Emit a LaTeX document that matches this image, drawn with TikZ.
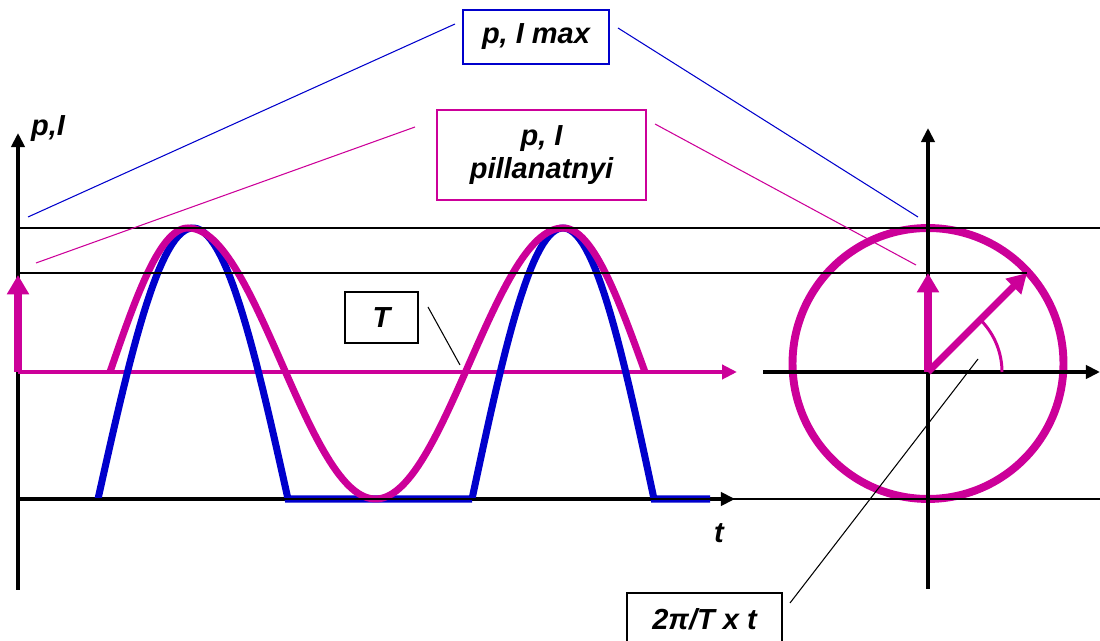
\documentclass[tikz,border=0pt]{standalone}
\usepackage{fontspec}
\setmainfont{Liberation Sans}
\usetikzlibrary{arrows.meta}
\definecolor{pmag}{RGB}{204,0,153}
\definecolor{pblue}{RGB}{0,0,204}

\begin{document}
\begin{tikzpicture}[
  x=0.02cm, y=-0.02cm,
  txt/.style={font=\fontsize{16.5}{19}\selectfont\bfseries\itshape, align=center},
  box/.style={txt, draw, line width=0.6pt, inner sep=0pt},
  axis/.style={line width=2.3pt, -{Triangle[length=8pt,width=7.5pt]}},
  guide/.style={line width=0.6pt},
  vec/.style={pmag, line width=4pt, -{Triangle[length=11pt,width=12pt]}},
  wave/.style={line width=4pt}
]
\useasboundingbox (0,0) rectangle (1100,641);
% reference points
\coordinate (org) at (928,372);
\coordinate (upL) at (18,275);
\coordinate (upR) at (928,273);
\coordinate (rot) at (1027,273);
% axes of the time plot
\draw[axis] (18,590) -- (18,133);
\draw[axis] (18,499) -- (735,499);
\draw[pmag, line width=2.5pt, -{Triangle[length=8.5pt,width=8pt]}] (18,372) -- (737,372);
% rectified wave (blue) and sine wave (magenta)
\draw[pblue, wave] plot[domain=98:288, samples=60] (\x,{499-271*cos(0.9474*(\x-193))})
  -- (472,499) plot[domain=472:654, samples=60] (\x,{499-271*cos(0.989*(\x-563))})
  -- (710,499);
\draw[pmag, wave] plot[domain=110:188, samples=40] (\x,{372-144*sin(1.1538*(\x-110))})
  plot[domain=188:563, samples=120] (\x,{363.5-135.5*cos(0.96*(\x-188))})
  plot[domain=563:645, samples=40] (\x,{372-144*sin(1.0976*(645-\x))});
\draw[vec] (18,372) -- (upL);
% phasor circle
\draw[pmag, line width=4.5pt] (928,363.5) circle[radius=2.71cm];
\draw[axis] (928,589) -- (928,128);
\draw[axis] (763,372) -- (1100,372);
\draw[pmag, line width=1.7pt] plot[domain=0:43, samples=30] ({928+74*cos(\x)},{372-74*sin(\x)});
\draw[vec] (org) -- (upR);
\draw[vec] (org) -- (rot);
% level lines
\draw[guide] (18,228) -- (1100,228);
\draw[guide] (18,273) -- (rot);
\draw[guide] (18,499) -- (1100,499);
% labels
\node[txt] (pI) at (48,129) {p,I};
\node[txt] (tlab) at (719,533) {t};
\node[box, draw=pblue, minimum width=2.92cm, minimum height=1.08cm] (maxbox) at (536,37) {p, I max};
\node[box, draw=pmag, minimum width=4.18cm, minimum height=1.8cm] (pilbox) at (541.5,155) {p, I\\pillanatnyi};
\node[box, minimum width=1.46cm, minimum height=1.02cm] (Tbox) at (381.5,317.5) {T};
\node[box, minimum width=3.1cm, minimum height=1.04cm] (wtbox) at (704.5,619) {2π/T x t};
% pointer lines
\coordinate (maxA) at (455,24);   \coordinate (maxB) at (28,217);
\coordinate (maxC) at (618,28);   \coordinate (maxD) at (918,217);
\coordinate (pilA) at (415,127);  \coordinate (pilB) at (36,263);
\coordinate (pilC) at (655,124);  \coordinate (pilD) at (916,265);
\coordinate (TA) at (428,307);    \coordinate (TB) at (460,365);
\coordinate (wtA) at (790,603);   \coordinate (wtB) at (978,359);
\draw[pblue, guide] (maxA) -- (maxB);
\draw[pblue, guide] (maxC) -- (maxD);
\draw[pmag, guide] (pilA) -- (pilB);
\draw[pmag, guide] (pilC) -- (pilD);
\draw[guide] (TA) -- (TB);
\draw[guide] (wtA) -- (wtB);
\end{tikzpicture}
\end{document}
